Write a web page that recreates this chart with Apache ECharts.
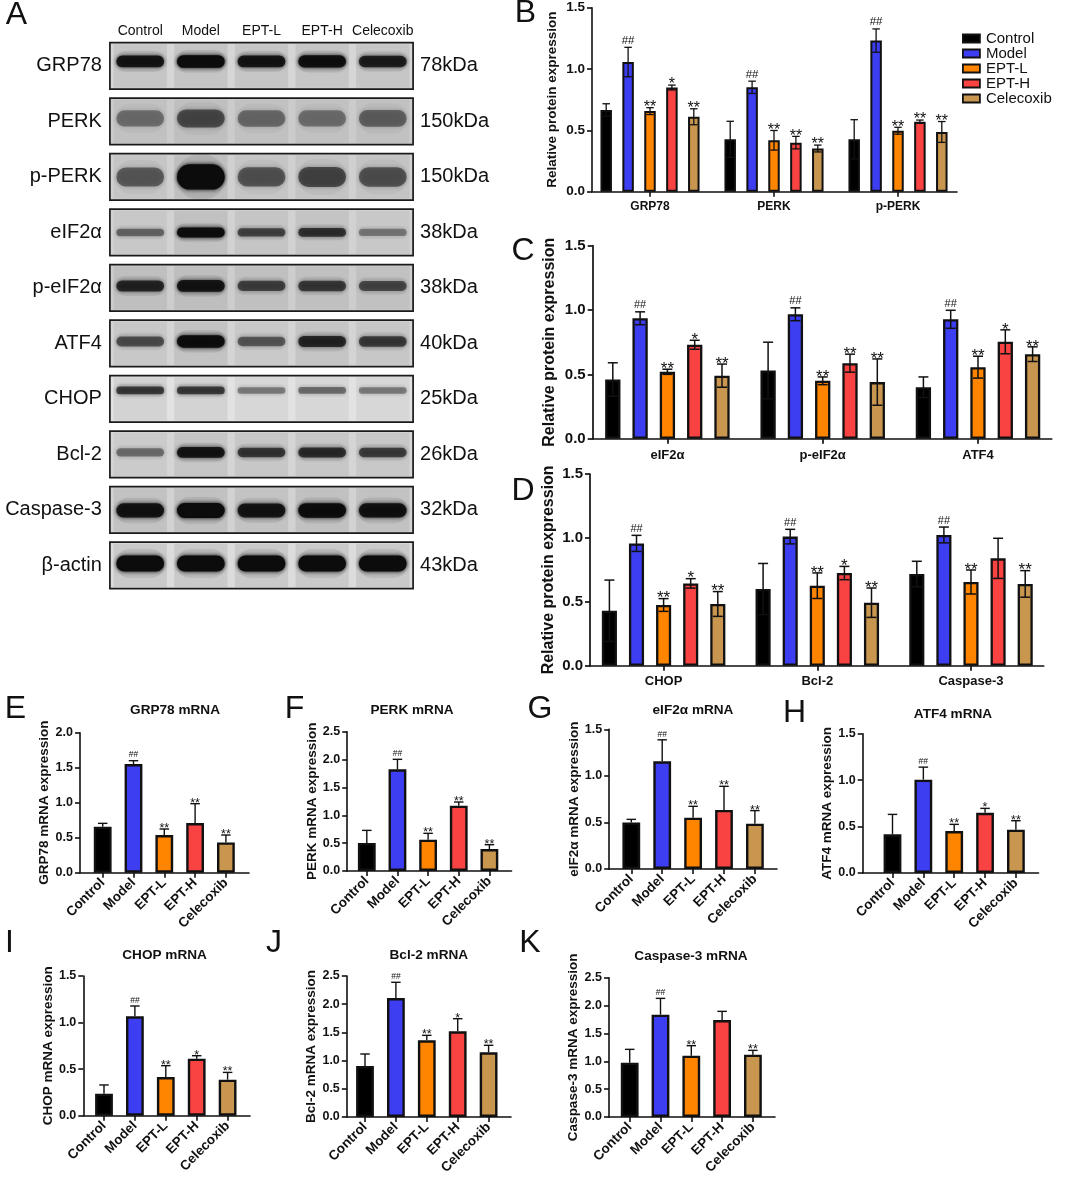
<!DOCTYPE html>
<html><head><meta charset="utf-8">
<script src="https://cdn.jsdelivr.net/npm/echarts@6/dist/echarts.min.js"></script>
<style>html,body{margin:0;padding:0;background:#fff}#c{width:1065px;height:1179px}</style>
</head><body><div id="c"></div>
<script>
// ================= DATA =================
const GROUPS = ['Control', 'Model', 'EPT-L', 'EPT-H', 'Celecoxib'];

// Panel A – western blot, relative band darkness per row (rows) and lane (columns)
const BLOT_ROWS = ['GRP78', 'PERK', 'p-PERK', 'eIF2α', 'p-eIF2α', 'ATF4', 'CHOP', 'Bcl-2', 'Caspase-3', 'β-actin'];
const BLOT_KDA = ['78kDa', '150kDa', '150kDa', '38kDa', '38kDa', '40kDa', '25kDa', '26kDa', '32kDa', '43kDa'];
const BLOT_INTENSITY = [
  [0.85, 1.00, 0.85, 0.92, 0.78],
  [0.32, 0.50, 0.34, 0.32, 0.38],
  [0.42, 1.00, 0.45, 0.52, 0.46],
  [0.38, 0.95, 0.55, 0.65, 0.30],
  [0.72, 0.85, 0.55, 0.60, 0.52],
  [0.50, 0.95, 0.45, 0.72, 0.60],
  [0.62, 0.62, 0.32, 0.38, 0.32],
  [0.35, 0.85, 0.62, 0.68, 0.58],
  [0.88, 1.00, 0.85, 0.95, 0.90],
  [1.00, 1.00, 1.00, 1.00, 1.00]
];

// Panel B – rows: groups, columns: proteins
const B_CATS = ['GRP78', 'PERK', 'p-PERK'];
const B_MEAN = [[0.666, 0.427, 0.427], [1.057, 0.851, 1.232], [0.657, 0.419, 0.497], [0.849, 0.400, 0.571], [0.611, 0.352, 0.487]];
const B_ERR  = [[0.051, 0.147, 0.160], [0.120, 0.050, 0.095], [0.028, 0.080, 0.028], [0.020, 0.051, 0.013], [0.065, 0.028, 0.085]];
const B_SIG  = [['', '', ''], ['##', '##', '##'], ['**', '**', '**'], ['*', '**', '**'], ['**', '**', '**']];

// Panel C
const C_CATS = ['eIF2α', 'p-eIF2α', 'ATF4'];
const C_MEAN = [[0.46, 0.53, 0.40], [0.936, 0.967, 0.928], [0.52, 0.45, 0.556], [0.73, 0.587, 0.753], [0.49, 0.44, 0.657]];
const C_ERR  = [[0.13, 0.22, 0.08], [0.05, 0.05, 0.07], [0.02, 0.03, 0.085], [0.035, 0.07, 0.093], [0.09, 0.18, 0.057]];
const C_SIG  = [['', '', ''], ['##', '##', '##'], ['**', '**', '**'], ['*', '**', '*'], ['**', '**', '**']];

// Panel D
const D_CATS = ['CHOP', 'Bcl-2', 'Caspase-3'];
const D_MEAN = [[0.43, 0.60, 0.717], [0.957, 1.01, 1.023], [0.475, 0.626, 0.655], [0.644, 0.725, 0.84], [0.483, 0.493, 0.64]];
const D_ERR  = [[0.24, 0.20, 0.10], [0.063, 0.057, 0.062], [0.05, 0.10, 0.094], [0.037, 0.052, 0.157], [0.097, 0.115, 0.104]];
const D_SIG  = [['', '', ''], ['##', '##', '##'], ['**', '**', '**'], ['*', '*', ''], ['**', '**', '**']];

// Panels E–K – mRNA expression (one value per group)
const E_MEAN = [0.657, 1.552, 0.538, 0.710, 0.433], E_ERR = [0.048, 0.048, 0.086, 0.276, 0.105], E_SIG = ['', '##', '**', '**', '**'];
const F_MEAN = [0.502, 1.824, 0.562, 1.172, 0.395], F_ERR = [0.227, 0.180, 0.114, 0.066, 0.077], F_SIG = ['', '##', '**', '**', '**'];
const G_MEAN = [0.500, 1.157, 0.551, 0.634, 0.487], G_ERR = [0.033, 0.230, 0.122, 0.254, 0.140], G_SIG = ['', '##', '**', '**', '**'];
const H_MEAN = [0.416, 1.005, 0.452, 0.649, 0.466], H_ERR = [0.215, 0.135, 0.072, 0.047, 0.097], H_SIG = ['', '##', '**', '*', '**'];
const I_MEAN = [0.236, 1.067, 0.415, 0.612, 0.387], I_ERR = [0.094, 0.111, 0.122, 0.032, 0.078], I_SIG = ['', '##', '**', '*', '**'];
const J_MEAN = [0.904, 2.110, 1.359, 1.519, 1.147], J_ERR = [0.213, 0.278, 0.089, 0.224, 0.124], J_SIG = ['', '##', '**', '*', '**'];
const K_MEAN = [0.975, 1.836, 1.100, 1.740, 1.118], K_ERR = [0.239, 0.293, 0.180, 0.156, 0.078], K_SIG = ['', '##', '**', '', '**'];

// ================= STYLE / LAYOUT =================
const COLORS = ['#000000', '#3d3df2', '#ff8400', '#f94343', '#c9964f'];
const INK = '#111111';
const FONT = '"Liberation Sans", Arial, Helvetica, sans-serif';
const BAND_STYLE = [
  {dy: -4.5, h: 11, bg: '#d6d6d6'}, {dy: -3, h: 20, bg: '#cbcbcb'}, {dy: 0, h: 22, bg: '#d0d0d0'},
  {dy: 0, h: 9, bg: '#d2d2d2'}, {dy: -2, h: 11, bg: '#cdcdcd'}, {dy: -2, h: 11, bg: '#d4d4d4'},
  {dy: -8.5, h: 8, bg: '#e2e2e2'}, {dy: -2, h: 10, bg: '#d5d5d5'}, {dy: 0.5, h: 13, bg: '#d2d2d2'},
  {dy: -2, h: 14, bg: '#dcdcdc'}
];

const grids = [], xAxes = [], yAxes = [], series = [], graphics = [];

function addGrid(g) {
  grids.push(Object.assign({outerBoundsMode: 'none', containLabel: false}, g));
  return grids.length - 1;
}
function addFrame(x0, x1, yTop, yBot, lw) {
  const gi = addGrid({left: x0, top: yTop, width: x1 - x0, height: yBot - yTop});
  xAxes.push({gridIndex: gi, type: 'value', min: 0, max: 1,
    axisLine: {show: true, onZero: false, lineStyle: {color: INK, width: lw}},
    axisTick: {show: false}, axisLabel: {show: false}, splitLine: {show: false}});
  yAxes.push({gridIndex: gi, type: 'value', min: 0, max: 1, show: false});
}

function makeErr(o) {
  return function (params, api) {
    const ci = api.value(0), m = api.value(1), e = api.value(2), si = api.value(3);
    const pTop = api.coord([ci, m + e]);
    const pBot = api.coord([ci, o.oneSided ? m : m - e]);
    const x = pTop[0] + (si - (o.nSeries - 1) / 2) * o.pitch;
    const hw = o.capW / 2, ls = {stroke: INK, lineWidth: o.lw};
    const ch = [
      {type: 'line', shape: {x1: x, y1: pTop[1], x2: x, y2: pBot[1]}, style: ls},
      {type: 'line', shape: {x1: x - hw, y1: pTop[1], x2: x + hw, y2: pTop[1]}, style: ls}
    ];
    if (!o.oneSided) ch.push({type: 'line', shape: {x1: x - hw, y1: pBot[1], x2: x + hw, y2: pBot[1]}, style: ls});
    const s = o.sigs[params.dataIndex];
    if (s) {
      const star = s.indexOf('*') >= 0;
      const fs = star ? o.starFs : o.hashFs;
      const y = star ? pTop[1] - 2 + 0.12 * fs : pTop[1] - 2.5 - 0.36 * fs;
      ch.push({type: 'text', style: {text: s, x: x, y: y, font: fs + 'px ' + FONT, fill: INK,
        textAlign: 'center', textVerticalAlign: 'middle', align: 'center', verticalAlign: 'middle'}});
    }
    return {type: 'group', children: ch};
  };
}

function yAxisFor(gi, L, name, offset) {
  return {gridIndex: gi, type: 'value', min: 0, max: L.max, interval: 0.5, offset: offset,
    axisLine: {show: true, lineStyle: {color: INK, width: L.lw}},
    axisTick: {show: true, length: 5, lineStyle: {color: INK, width: L.lw}},
    axisLabel: {formatter: v => v.toFixed(1), color: INK, fontWeight: 'bold', fontFamily: FONT, fontSize: L.tickFs, margin: L.tickMargin},
    splitLine: {show: false},
    name: name, nameLocation: 'middle', nameGap: L.nameGap,
    nameTextStyle: {color: INK, fontWeight: 'bold', fontFamily: FONT, fontSize: L.nameFs}};
}

function addGrouped(cats, mean, err, sig, L) {
  addFrame(L.axisX, L.end, L.top, L.bottom, L.lw);
  const left = L.first - L.pitch / 2;
  const gi = addGrid({left: left, top: L.top, width: L.pitch * cats.length, height: L.bottom - L.top});
  const xi = xAxes.length, yi = yAxes.length;
  xAxes.push({gridIndex: gi, type: 'category', data: cats, axisLine: {show: false},
    axisTick: {show: true, alignWithLabel: true, length: 5, lineStyle: {color: INK, width: L.lw}},
    axisLabel: {interval: 0, color: INK, fontWeight: 'bold', fontFamily: FONT, fontSize: L.catFs, margin: L.catMargin},
    splitLine: {show: false}});
  yAxes.push(yAxisFor(gi, L, 'Relative protein expression', left - L.axisX));
  const gap = ((L.barPitch - L.barW) / L.barW * 100) + '%';
  GROUPS.forEach((g, si) => series.push({type: 'bar', name: g, xAxisIndex: xi, yAxisIndex: yi, data: mean[si],
    barWidth: L.barW, barGap: gap, itemStyle: {color: COLORS[si], borderColor: INK, borderWidth: L.bbw},
    emphasis: {disabled: true}, silent: true, z: 2}));
  const errData = [], sigs = [];
  GROUPS.forEach((g, si) => cats.forEach((c, ci) => { errData.push([ci, mean[si][ci], err[si][ci], si]); sigs.push(sig[si][ci]); }));
  series.push({type: 'custom', xAxisIndex: xi, yAxisIndex: yi, data: errData, encode: {x: 0, y: 1}, z: 5, silent: true,
    renderItem: makeErr({nSeries: GROUPS.length, pitch: L.barPitch, capW: L.capW, lw: L.elw, oneSided: false, sigs: sigs, hashFs: L.hashFs, starFs: L.starFs})});
}

function addMrna(title, mean, err, sig, L) {
  const M = {lw: 1.6, tickFs: 12.5, tickMargin: 7, nameFs: 13.5, nameGap: 23, catFs: 13.5, barW: 17.8, capW: 9.5};
  L = Object.assign({}, M, L);
  addFrame(L.axisX, L.end, L.top, L.bottom, L.lw);
  const left = L.first - L.pitch / 2;
  const gi = addGrid({left: left, top: L.top, width: L.pitch * GROUPS.length, height: L.bottom - L.top});
  const xi = xAxes.length, yi = yAxes.length;
  xAxes.push({gridIndex: gi, type: 'category', data: GROUPS, axisLine: {show: false},
    axisTick: {show: true, alignWithLabel: true, length: 5, lineStyle: {color: INK, width: L.lw}},
    axisLabel: {interval: 0, rotate: 45, color: INK, fontWeight: 'bold', fontFamily: FONT, fontSize: L.catFs, margin: 8},
    splitLine: {show: false}});
  yAxes.push(yAxisFor(gi, L, title.replace(' mRNA', '') + ' mRNA expression', left - L.axisX));
  series.push({type: 'bar', name: title, xAxisIndex: xi, yAxisIndex: yi,
    data: mean.map((v, i) => ({value: v, itemStyle: {color: COLORS[i]}})),
    barWidth: L.barW, itemStyle: {borderColor: INK, borderWidth: 2.4}, emphasis: {disabled: true}, silent: true, z: 2});
  series.push({type: 'custom', xAxisIndex: xi, yAxisIndex: yi, data: mean.map((v, i) => [i, v, err[i], 0]),
    encode: {x: 0, y: 1}, z: 5, silent: true,
    renderItem: makeErr({nSeries: 1, pitch: 0, capW: L.capW, lw: 1.4, oneSided: true, sigs: sig, hashFs: 8.5, starFs: 12.5})});
  graphics.push({type: 'text', x: L.titleX, y: L.titleY,
    style: {text: title, font: 'bold 13.6px ' + FONT, fill: INK, textAlign: 'center', textVerticalAlign: 'middle', align: 'center', verticalAlign: 'middle'}});
}

// ---------- Panel A: blot ----------
const blotGi = addGrid({left: 109.9, top: 38.2, width: 303.2, height: 555});
const blotX = xAxes.length;
xAxes.push({gridIndex: blotGi, type: 'category', position: 'top', data: GROUPS, axisLine: {show: false}, axisTick: {show: false},
  axisLabel: {interval: 0, fontSize: 14, color: INK, fontFamily: FONT, margin: 0}});
const blotY = yAxes.length;
yAxes.push({gridIndex: blotGi, type: 'category', data: BLOT_ROWS, inverse: true, axisLine: {show: false}, axisTick: {show: false},
  axisLabel: {interval: 0, fontSize: 20, color: INK, fontFamily: FONT, margin: 8}});
yAxes.push({gridIndex: blotGi, type: 'category', position: 'right', data: BLOT_ROWS, inverse: true, axisLine: {show: false}, axisTick: {show: false},
  axisLabel: {interval: 0, fontSize: 20, color: INK, fontFamily: FONT, margin: 7, formatter: (v, i) => BLOT_KDA[i]}});

series.push({type: 'custom', xAxisIndex: blotX, yAxisIndex: blotY, silent: true, z: 1,
  data: BLOT_ROWS.map((r, i) => [2, i]), encode: {x: 0, y: 1},
  renderItem: function (params, api) {
    const row = api.value(1);
    const c = api.coord([2, row]), sz = api.size([1, 1]);
    const w = sz[0] * 5, h = sz[1] * 0.838;
    return {type: 'rect', shape: {x: c[0] - w / 2, y: c[1] - h / 2, width: w, height: h},
      style: {fill: BAND_STYLE[row].bg, stroke: '#1a1a1a', lineWidth: 1.7}};
  }});
const bandData = [];
BLOT_INTENSITY.forEach((rowVals, r) => rowVals.forEach((k, lane) => bandData.push([lane, r, k])));
series.push({type: 'custom', xAxisIndex: blotX, yAxisIndex: blotY, silent: true, z: 2,
  data: bandData, encode: {x: 0, y: 1},
  renderItem: function (params, api) {
    const lane = api.value(0), row = api.value(1), k = api.value(2);
    const c = api.coord([lane, row]), sz = api.size([1, 1]);
    const st = BAND_STYLE[row];
    const w = sz[0] * 0.82, h = st.h * (0.65 + 0.5 * k);
    const y = c[1] + st.dy;
    const a = Math.min(1, 0.1 + 0.9 * k);
    const bh = sz[1] * 0.838;
    return {type: 'group', children: [
      {type: 'rect', shape: {x: c[0] - sz[0] * 0.44, y: c[1] - bh / 2 + 1.5, width: sz[0] * 0.88, height: bh - 3},
        style: {fill: 'rgba(0,0,0,' + (0.03 + 0.05 * k) + ')'}},
      {type: 'rect', shape: {x: c[0] - w / 2, y: y - h * 0.9, width: w, height: h * 1.8, r: h * 0.9},
        style: {fill: 'rgba(0,0,0,' + (0.07 * a) + ')', shadowBlur: 10, shadowColor: 'rgba(0,0,0,' + (0.18 * a) + ')'}},
      {type: 'rect', shape: {x: c[0] - w / 2 + 1, y: y - h / 2, width: w - 2, height: h, r: h / 2},
        style: {fill: 'rgba(12,12,12,' + a + ')', shadowBlur: 4, shadowColor: 'rgba(0,0,0,' + a + ')'}}
    ]};
  }});

// ---------- Panels B, C, D ----------
addGrouped(B_CATS, B_MEAN, B_ERR, B_SIG, {axisX: 592, end: 957, first: 650, pitch: 124, top: 7.7, bottom: 191.7, max: 1.5,
  barW: 11.5, barPitch: 21.9, bbw: 2, lw: 1.6, elw: 1.3, tickFs: 13.5, tickMargin: 7, catFs: 12, catMargin: 9, nameFs: 13.5, nameGap: 33,
  capW: 7.5, hashFs: 11.5, starFs: 16});
addGrouped(C_CATS, C_MEAN, C_ERR, C_SIG, {axisX: 592.7, end: 1051.7, first: 667.4, pitch: 155.3, top: 245.7, bottom: 438.7, max: 1.5,
  barW: 15.3, barPitch: 27.3, bbw: 2.3, lw: 1.7, elw: 1.5, tickFs: 15, tickMargin: 7, catFs: 13, catMargin: 10, nameFs: 16, nameGap: 35,
  capW: 10, hashFs: 11, starFs: 17});
addGrouped(D_CATS, D_MEAN, D_ERR, D_SIG, {axisX: 590, end: 1043.7, first: 663.6, pitch: 153.7, top: 474, bottom: 665.7, max: 1.5,
  barW: 15.1, barPitch: 27.1, bbw: 2.3, lw: 1.7, elw: 1.5, tickFs: 15, tickMargin: 7, catFs: 13, catMargin: 9, nameFs: 16, nameGap: 33,
  capW: 10, hashFs: 11, starFs: 17});

// ---------- Panels E–K ----------
addMrna('GRP78 mRNA', E_MEAN, E_ERR, E_SIG, {axisX: 80, end: 249, first: 102.7, pitch: 30.8, top: 732.7, bottom: 872.7, max: 2.0, titleX: 175, titleY: 710});
addMrna('PERK mRNA', F_MEAN, F_ERR, F_SIG, {axisX: 347.2, end: 511.5, first: 366.8, pitch: 30.65, top: 731.7, bottom: 871, max: 2.5, titleX: 412, titleY: 710});
addMrna('eIF2α mRNA', G_MEAN, G_ERR, G_SIG, {axisX: 609.2, end: 777, first: 631.3, pitch: 30.9, top: 729.3, bottom: 869, max: 1.5, titleX: 693, titleY: 710});
addMrna('ATF4 mRNA', H_MEAN, H_ERR, H_SIG, {axisX: 862.7, end: 1038.5, first: 892.5, pitch: 30.85, top: 733.7, bottom: 873, max: 1.5, titleX: 953, titleY: 714});
addMrna('CHOP mRNA', I_MEAN, I_ERR, I_SIG, {axisX: 83.3, end: 250, first: 104, pitch: 30.9, top: 976, bottom: 1115.7, max: 1.5, titleX: 164.6, titleY: 955});
addMrna('Bcl-2 mRNA', J_MEAN, J_ERR, J_SIG, {axisX: 346.8, end: 511, first: 365, pitch: 30.9, top: 976, bottom: 1117, max: 2.5, titleX: 428.8, titleY: 955});
addMrna('Caspase-3 mRNA', K_MEAN, K_ERR, K_SIG, {axisX: 609, end: 775, first: 629.7, pitch: 30.8, top: 977.7, bottom: 1117, max: 2.5, titleX: 691, titleY: 956});

// ---------- Panel letters ----------
[['A', 16.5, 15], ['B', 525.5, 13], ['C', 523, 251], ['D', 523, 491], ['E', 15.5, 709], ['F', 294.5, 709],
 ['G', 540, 709], ['H', 794.5, 713], ['I', 9.5, 943], ['J', 274, 943], ['K', 530, 943]].forEach(l => {
  graphics.push({type: 'text', x: l[1], y: l[2], style: {text: l[0], font: '32px ' + FONT, fill: INK,
    textAlign: 'center', textVerticalAlign: 'middle', align: 'center', verticalAlign: 'middle'}});
});

const chart = echarts.init(document.getElementById('c'), null, {renderer: 'canvas', width: 1065, height: 1179});
chart.setOption({
  animation: false,
  backgroundColor: '#ffffff',
  textStyle: {fontFamily: FONT},
  legend: {data: GROUPS, left: 957, top: 26, orient: 'vertical', itemWidth: 17, itemHeight: 8, itemGap: 0,
    selectedMode: false, icon: 'rect', itemStyle: {borderColor: INK, borderWidth: 1.8},
    textStyle: {fontSize: 15, color: INK, fontFamily: FONT, lineHeight: 14.6, padding: [0, 0, 0, 1]}},
  grid: grids, xAxis: xAxes, yAxis: yAxes, series: series, graphic: graphics
});
</script></body></html>
